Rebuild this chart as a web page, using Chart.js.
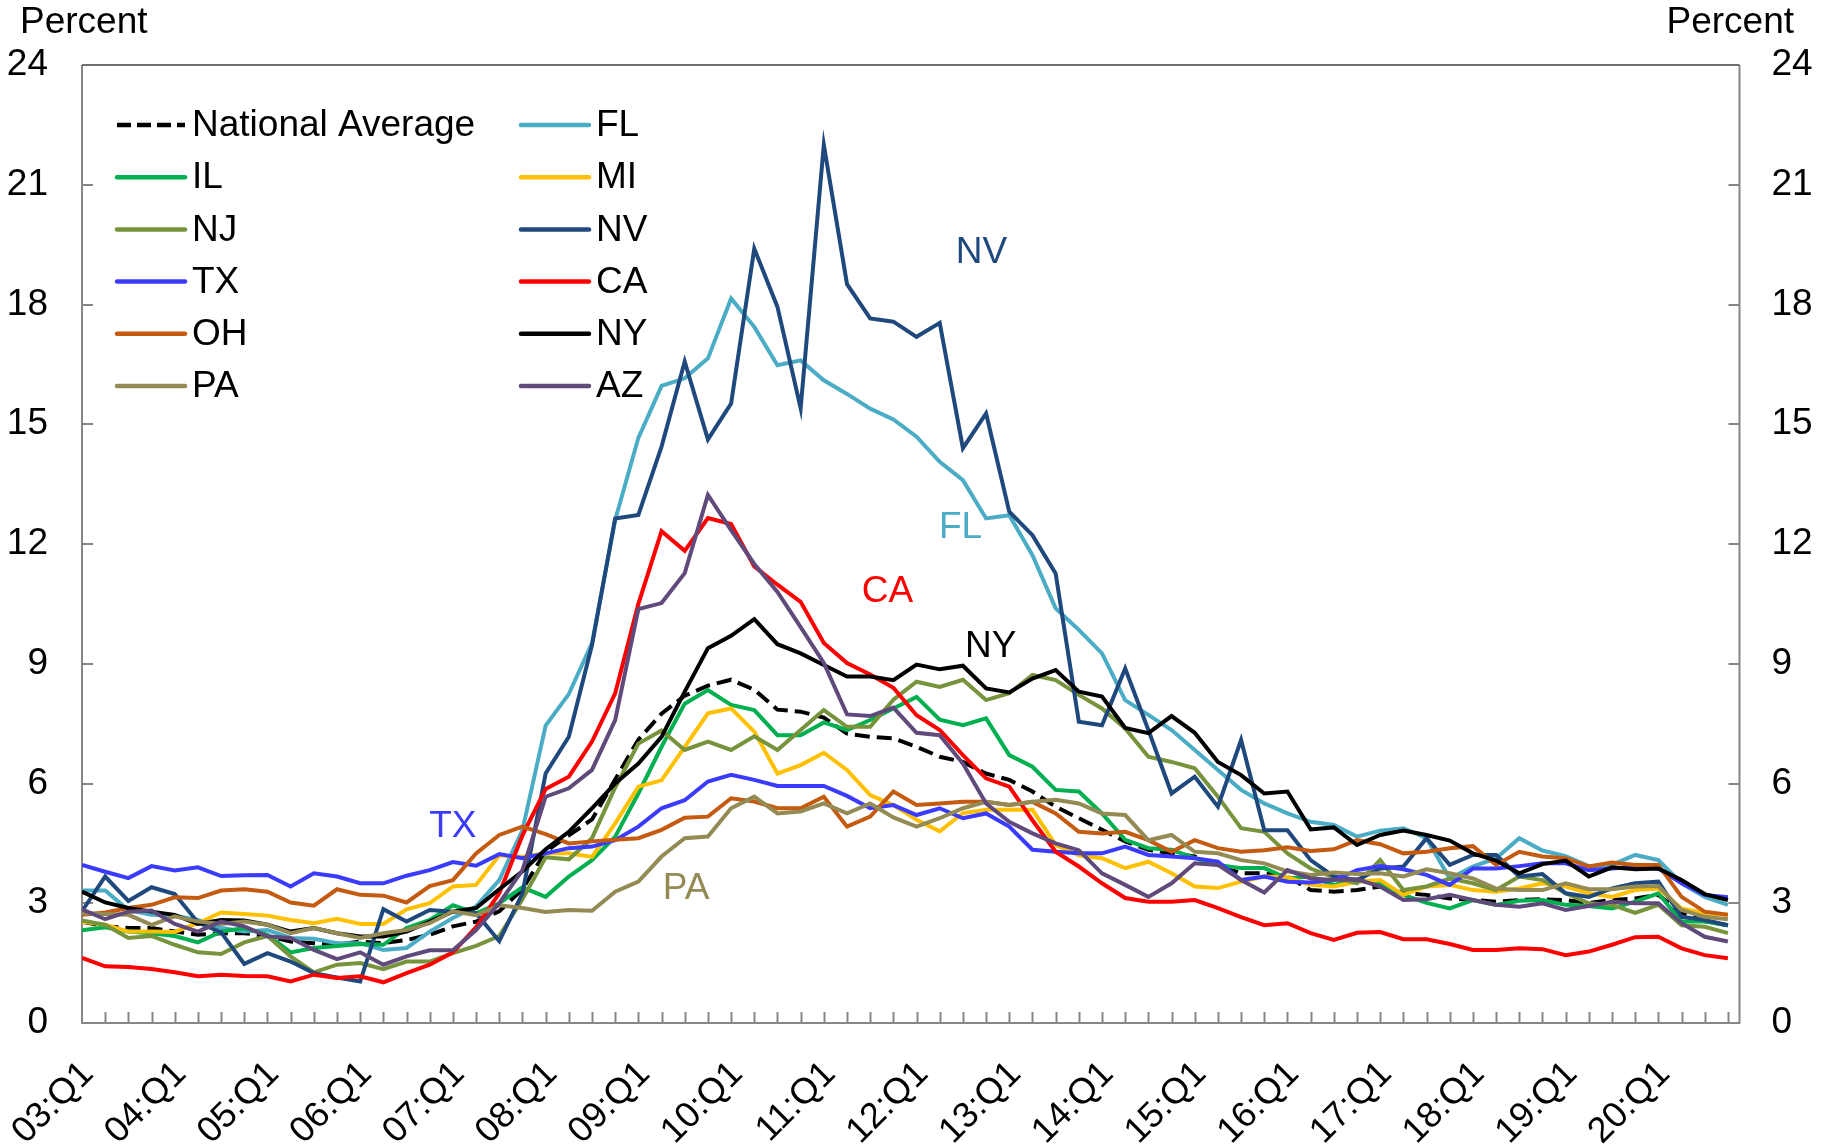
<!DOCTYPE html>
<html>
<head>
<meta charset="utf-8">
<script src="https://cdn.jsdelivr.net/npm/chart.js@4.4.0/dist/chart.umd.min.js"></script>
<style>
  html, body { margin: 0; padding: 0; background: #fff; }
</style>
</head>
<body>
<canvas id="lineChart" width="1827" height="1144"></canvas>
<script>
// x tick labels (one per year, first quarter); points are quarterly 03:Q1 .. 20:Q4
var yearLabels = ['03:Q1', '04:Q1', '05:Q1', '06:Q1', '07:Q1', '08:Q1', '09:Q1', '10:Q1', '11:Q1',
                  '12:Q1', '13:Q1', '14:Q1', '15:Q1', '16:Q1', '17:Q1', '18:Q1', '19:Q1', '20:Q1'];
var yTickValues = [0, 3, 6, 9, 12, 15, 18, 21, 24];

var natAvg = [2.54, 2.42, 2.38, 2.38, 2.29, 2.21, 2.25, 2.25, 2.18, 2.04, 2.0, 1.96, 2.04, 2.0, 2.08, 2.21, 2.42, 2.54, 2.8,
              3.35, 4.3, 4.7, 5.1, 6.1, 7.1, 7.75, 8.2, 8.45, 8.6, 8.35, 7.85, 7.8, 7.65, 7.25, 7.17,
              7.13, 6.92, 6.67, 6.54, 6.25, 6.09, 5.8, 5.42, 5.13, 4.84, 4.55, 4.34, 4.25, 4.17, 3.96, 3.75, 3.75,
              3.67, 3.33, 3.29, 3.33, 3.42, 3.25, 3.21, 3.12, 3.08, 3.04, 3.08, 3.1, 3.08, 3.01, 3.08, 3.12, 3.21, 2.75, 2.55, 2.45];
var fl = [3.32, 3.32, 2.83, 2.71, 2.69, 2.58, 2.38, 2.29, 2.33, 2.13, 2.11, 2.0, 2.0, 1.83, 1.88, 2.29, 2.63, 2.92, 3.58,
          4.83, 7.45, 8.24, 9.52, 12.6, 14.66, 15.96, 16.15, 16.65, 18.15, 17.44, 16.48, 16.6, 16.1, 15.76, 15.39,
          15.12, 14.69, 14.06, 13.6, 12.64, 12.72, 11.72, 10.39, 9.85, 9.26, 8.09, 7.72, 7.34, 6.84, 6.34, 5.84, 5.5,
          5.25, 5.04, 4.96, 4.67, 4.82, 4.88, 4.63, 3.62, 3.92, 4.13, 4.63, 4.32, 4.18, 3.93, 3.96, 4.21, 4.08, 3.5, 3.16, 2.96];
var il = [2.32, 2.4, 2.29, 2.25, 2.18, 2.02, 2.29, 2.38, 2.21, 1.77, 1.88, 1.93, 1.98, 1.96, 2.38, 2.58,
          2.95, 2.75, 3.0, 3.4, 3.16, 3.67, 4.08, 4.67, 5.75, 6.92, 8.0, 8.34, 7.97, 7.84, 7.21, 7.21, 7.53, 7.34, 7.59,
          7.88, 8.17, 7.6, 7.46, 7.63, 6.71, 6.42, 5.84, 5.8, 5.25, 4.59, 4.38, 4.34, 4.13, 3.96, 3.88, 3.88,
          3.62, 3.67, 3.46, 3.58, 3.5, 3.21, 3.01, 2.87, 3.08, 2.96, 3.06, 3.08, 2.96, 2.93, 2.87, 3.04, 3.25, 2.54, 2.54, 2.45];
var mi = [2.54, 2.46, 2.29, 2.29, 2.28, 2.5, 2.77, 2.73, 2.69, 2.58, 2.5, 2.61, 2.48, 2.48, 2.85, 3.0, 3.42, 3.46,
          4.2, 4.16, 4.25, 4.25, 4.16, 5.0, 5.92, 6.08, 6.92, 7.76, 7.88, 7.3, 6.25, 6.46, 6.77, 6.34, 5.71,
          5.46, 5.09, 4.8, 5.26, 5.34, 5.34, 5.34, 4.46, 4.2, 4.13, 3.88, 4.04, 3.75, 3.42, 3.38, 3.54, 3.67,
          3.65, 3.46, 3.42, 3.54, 3.58, 3.21, 3.42, 3.46, 3.33, 3.29, 3.37, 3.5, 3.42, 3.25, 3.16, 3.33, 3.37, 2.87, 2.75, 2.71];
var nj = [2.57, 2.46, 2.13, 2.18, 1.96, 1.77, 1.73, 2.02, 2.18, 1.67, 1.27, 1.46, 1.5, 1.35, 1.54, 1.54, 1.75,
          1.93, 2.18, 3.1, 4.15, 4.1, 4.63, 5.9, 7.0, 7.33, 6.84, 7.05, 6.84, 7.18, 6.84, 7.34, 7.84, 7.42, 7.42,
          8.1, 8.55, 8.42, 8.6, 8.09, 8.26, 8.72, 8.59, 8.22, 7.88, 7.38, 6.67, 6.54, 6.38, 5.67, 4.88, 4.79,
          4.25, 3.87, 3.65, 3.5, 4.08, 3.33, 3.42, 3.62, 3.5, 3.33, 3.67, 3.58, 3.25, 3.0, 2.96, 2.76, 2.96, 2.45, 2.41, 2.25];
var nv = [2.8, 3.67, 3.06, 3.4, 3.23, 2.52, 2.27, 1.48, 1.75, 1.54, 1.25, 1.14, 1.04, 2.85, 2.54, 2.83, 2.79, 2.75, 2.05,
          3.25, 6.25, 7.17, 9.47, 12.64, 12.73, 14.44, 16.57, 14.62, 15.52, 19.4, 17.94, 15.4, 22.0, 18.51, 17.65,
          17.57, 17.19, 17.54, 14.4, 15.27, 12.81, 12.22, 11.26, 7.55, 7.46, 8.88, 7.34, 5.75, 6.17, 5.42, 7.09, 4.83,
          4.83, 4.08, 3.67, 3.58, 3.87, 3.92, 4.63, 3.96, 4.21, 4.21, 3.67, 3.73, 3.25, 3.16, 3.37, 3.5, 3.54, 2.66, 2.58, 2.45];
var tx = [3.96, 3.79, 3.63, 3.93, 3.82, 3.9, 3.68, 3.7, 3.71, 3.42, 3.75, 3.67, 3.5, 3.5, 3.69, 3.83, 4.03, 3.94, 4.23,
          4.13, 4.25, 4.38, 4.42, 4.58, 4.92, 5.38, 5.58, 6.05, 6.22, 6.09, 5.94, 5.94, 5.94, 5.69, 5.38,
          5.46, 5.21, 5.38, 5.13, 5.25, 4.92, 4.34, 4.29, 4.25, 4.25, 4.42, 4.21, 4.17, 4.13, 4.04, 3.58, 3.67,
          3.54, 3.52, 3.58, 3.83, 3.93, 3.85, 3.71, 3.46, 3.87, 3.87, 3.93, 4.0, 4.0, 3.83, 3.87, 3.92, 3.87, 3.5, 3.21, 3.15];
var ca = [1.63, 1.42, 1.4, 1.35, 1.27, 1.17, 1.21, 1.18, 1.17, 1.04, 1.21, 1.13, 1.17, 1.02, 1.25, 1.46, 1.77,
          2.4, 3.25, 4.7, 5.86, 6.17, 7.05, 8.26, 10.5, 12.32, 11.83, 12.65, 12.5, 11.44, 10.98, 10.55, 9.52, 9.02, 8.73,
          8.4, 7.71, 7.34, 6.71, 6.13, 5.92, 5.08, 4.29, 3.92, 3.5, 3.13, 3.04, 3.04, 3.08, 2.88, 2.65, 2.45,
          2.5, 2.25, 2.08, 2.26, 2.28, 2.1, 2.1, 1.98, 1.83, 1.83, 1.87, 1.85, 1.7, 1.79, 1.96, 2.15, 2.16, 1.87, 1.7, 1.62];
var oh = [2.71, 2.77, 2.88, 2.96, 3.15, 3.13, 3.32, 3.35, 3.29, 3.02, 2.94, 3.35, 3.21, 3.19, 3.02, 3.43, 3.58, 4.25, 4.71,
          4.92, 4.73, 4.5, 4.55, 4.59, 4.63, 4.84, 5.14, 5.17, 5.63, 5.55, 5.38, 5.38, 5.67, 4.92, 5.17,
          5.8, 5.46, 5.5, 5.54, 5.54, 5.46, 5.54, 5.25, 4.79, 4.75, 4.79, 4.58, 4.29, 4.58, 4.38, 4.29, 4.33,
          4.4, 4.31, 4.35, 4.58, 4.48, 4.25, 4.29, 4.38, 4.43, 3.96, 4.29, 4.17, 4.13, 3.92, 4.02, 3.96, 3.96, 3.16, 2.79, 2.71];
var ny = [3.29, 3.02, 2.88, 2.79, 2.71, 2.48, 2.58, 2.57, 2.46, 2.29, 2.38, 2.25, 2.17, 2.17, 2.29, 2.54, 2.79, 2.88, 3.35,
          3.8, 4.35, 4.79, 5.38, 6.0, 6.5, 7.17, 8.3, 9.39, 9.7, 10.12, 9.49, 9.26, 8.97, 8.68, 8.68,
          8.59, 8.98, 8.86, 8.95, 8.38, 8.28, 8.63, 8.84, 8.3, 8.18, 7.39, 7.26, 7.69, 7.27, 6.54, 6.21, 5.75,
          5.8, 4.85, 4.9, 4.46, 4.71, 4.82, 4.71, 4.57, 4.25, 4.07, 3.75, 3.98, 4.07, 3.67, 3.9, 3.85, 3.87, 3.58, 3.23, 3.08];
var pa = [2.75, 2.73, 2.71, 2.46, 2.67, 2.54, 2.48, 2.54, 2.46, 2.25, 2.38, 2.25, 2.13, 2.25, 2.33, 2.5, 2.8,
          2.7, 2.95, 2.88, 2.78, 2.83, 2.81, 3.29, 3.54, 4.17, 4.63, 4.67, 5.38, 5.67, 5.25, 5.3, 5.5, 5.25, 5.5,
          5.15, 4.92, 5.13, 5.38, 5.54, 5.46, 5.54, 5.59, 5.5, 5.25, 5.21, 4.58, 4.71, 4.29, 4.25, 4.08, 4.0,
          3.8, 3.71, 3.77, 3.73, 3.75, 3.67, 3.85, 3.75, 3.62, 3.37, 3.33, 3.33, 3.5, 3.35, 3.35, 3.42, 3.43, 2.83, 2.66, 2.6];
var az = [2.85, 2.6, 2.79, 2.82, 2.48, 2.29, 2.54, 2.42, 2.17, 2.13, 1.83, 1.6, 1.77, 1.46, 1.67, 1.82, 1.82, 2.33,
          3.0, 3.83, 5.67, 5.88, 6.34, 7.59, 10.37, 10.52, 11.27, 13.23, 12.35, 11.5, 10.8, 9.92, 9.02, 7.73, 7.69,
          7.9, 7.27, 7.21, 6.5, 5.5, 5.04, 4.75, 4.5, 4.33, 3.75, 3.46, 3.16, 3.5, 4.0, 3.96, 3.58, 3.27,
          3.83, 3.62, 3.58, 3.6, 3.42, 3.08, 3.1, 3.21, 3.08, 2.96, 2.91, 3.0, 2.83, 2.93, 3.04, 3.0, 3.0, 2.5, 2.16, 2.04];

// state labels written on the plot: [text, quarter index, value, colour]
var noteLabels = [['NV', 38.8, 19.3, '#1F497D'], ['FL', 37.9, 12.4, '#4BACC6'], ['CA', 34.75, 10.8, '#FF0000'],
                  ['NY', 39.2, 9.43, '#000000'], ['TX', 16.0, 4.92, '#3B3BFF'], ['PA', 26.06, 3.37, '#948A54']];

var FONT = "'Liberation Sans', Arial, sans-serif";
var FONT_SIZE = 37;

function toPoints(arr) {
    return arr.map(function(v, i) { return { x: i, y: v }; });
}

var series = [
    { label: 'National Average', data: natAvg, color: '#000000', dash: [15, 7] },
    { label: 'FL', data: fl, color: '#4BACC6' },
    { label: 'IL', data: il, color: '#00B050' },
    { label: 'MI', data: mi, color: '#FFC000' },
    { label: 'NJ', data: nj, color: '#77933C' },
    { label: 'NV', data: nv, color: '#1F497D' },
    { label: 'TX', data: tx, color: '#3B3BFF' },
    { label: 'CA', data: ca, color: '#FF0000' },
    { label: 'OH', data: oh, color: '#C55A11' },
    { label: 'NY', data: ny, color: '#000000' },
    { label: 'PA', data: pa, color: '#948A54' },
    { label: 'AZ', data: az, color: '#604A7B' }
];

// axes box with inward tick marks
var framePlugin = {
    id: 'frame',
    beforeDatasetsDraw: function(chart) {
        var ctx = chart.ctx, a = chart.chartArea, xs = chart.scales.x, ys = chart.scales.y;
        ctx.save();
        ctx.strokeStyle = '#868686';
        ctx.lineWidth = 2;
        ctx.beginPath();
        for (var i = 1; i < natAvg.length; i++) {
            var px = Math.round(xs.getPixelForValue(i)) + 0.5;
            ctx.moveTo(px, a.bottom);
            ctx.lineTo(px, a.bottom - 11);
        }
        yTickValues.forEach(function(v) {
            if (v === 0 || v === 24) return;
            var py = Math.round(ys.getPixelForValue(v));
            ctx.moveTo(a.left, py); ctx.lineTo(a.left + 11, py);
            ctx.moveTo(a.right, py); ctx.lineTo(a.right - 11, py);
        });
        ctx.stroke();
        ctx.beginPath();
        ctx.moveTo(a.left, a.top); ctx.lineTo(a.left, a.bottom); ctx.lineTo(a.right, a.bottom); ctx.lineTo(a.right, a.top);
        ctx.stroke();
        ctx.strokeStyle = '#404040';
        ctx.lineWidth = 1.5;
        ctx.beginPath();
        ctx.moveTo(a.left, a.top); ctx.lineTo(a.right, a.top);
        ctx.stroke();
        ctx.restore();
    }
};

// two-column legend, series labels on the plot, and the unit titles
var textPlugin = {
    id: 'texts',
    afterDraw: function(chart) {
        var ctx = chart.ctx, xs = chart.scales.x, ys = chart.scales.y;
        ctx.save();
        ctx.font = FONT_SIZE + 'px ' + FONT;
        ctx.textBaseline = 'middle';

        ctx.fillStyle = '#000';
        ctx.textAlign = 'left';
        ctx.fillText('Percent', 20, 23);
        ctx.textAlign = 'right';
        ctx.fillText('Percent', 1794, 23);

        // legend
        ctx.textAlign = 'left';
        chart.data.datasets.forEach(function(ds, i) {
            var col = i % 2, row = Math.floor(i / 2);
            var x0 = col === 0 ? 117 : 521;
            var y = 125 + row * 52.2;
            ctx.strokeStyle = ds.borderColor;
            ctx.lineWidth = 4.5;
            if (ds.borderDash && ds.borderDash.length) {
                ctx.setLineDash([14, 6]);
                ctx.lineCap = 'butt';
            } else {
                ctx.setLineDash([]);
                ctx.lineCap = 'round';
            }
            ctx.beginPath();
            ctx.moveTo(x0, y);
            ctx.lineTo(x0 + 68, y);
            ctx.stroke();
            ctx.fillStyle = '#000';
            ctx.fillText(ds.label, x0 + 75, y + 1);
        });
        ctx.setLineDash([]);

        // labels next to the lines
        ctx.textAlign = 'center';
        noteLabels.forEach(function(n) {
            ctx.fillStyle = n[3];
            ctx.fillText(n[0], xs.getPixelForValue(n[1]), ys.getPixelForValue(n[2]));
        });
        ctx.restore();
    }
};

var ctx1 = document.getElementById('lineChart').getContext('2d');
var lineChart = new Chart(ctx1, {
    type: 'line',
    data: {
        datasets: series.map(function(s, i) {
            return {
                label: s.label,
                data: toPoints(s.data),
                borderColor: s.color,
                backgroundColor: s.color,
                borderWidth: 4,
                borderDash: s.dash || [],
                pointRadius: 0,
                tension: 0,
                fill: false,
                order: series.length - i // later series are drawn on top
            };
        })
    },
    options: {
        responsive: false,
        animation: false,
        layout: { padding: { top: 65, left: 0, right: 0, bottom: 0 } },
        plugins: {
            legend: { display: false },
            tooltip: { enabled: false }
        },
        scales: {
            x: {
                type: 'linear',
                min: 0,
                max: natAvg.length - 0.5,
                grid: { display: false, drawTicks: false },
                border: { display: false },
                ticks: {
                    stepSize: 4,
                    autoSkip: false,
                    minRotation: 45,
                    maxRotation: 45,
                    padding: 30,
                    labelOffset: 6,
                    color: '#000',
                    font: { family: FONT, size: 36 },
                    callback: function(v) { return v % 4 === 0 ? yearLabels[v / 4] : ''; }
                },
                afterFit: function(s) { s.height = 121; s.paddingLeft = 0; s.paddingRight = 0; }
            },
            y: {
                position: 'left',
                min: 0,
                max: 24,
                grid: { display: false, drawTicks: false },
                border: { display: false },
                ticks: { stepSize: 3, padding: 34, color: '#000', font: { family: FONT, size: FONT_SIZE } },
                afterFit: function(s) { s.width = 82; s.paddingTop = 0; s.paddingBottom = 0; }
            },
            y2: {
                position: 'right',
                min: 0,
                max: 24,
                grid: { display: false, drawTicks: false },
                border: { display: false },
                ticks: { stepSize: 3, padding: 32, color: '#000', font: { family: FONT, size: FONT_SIZE } },
                afterFit: function(s) { s.width = 87.5; s.paddingTop = 0; s.paddingBottom = 0; }
            }
        }
    },
    plugins: [framePlugin, textPlugin]
});
</script>
</body>
</html>
